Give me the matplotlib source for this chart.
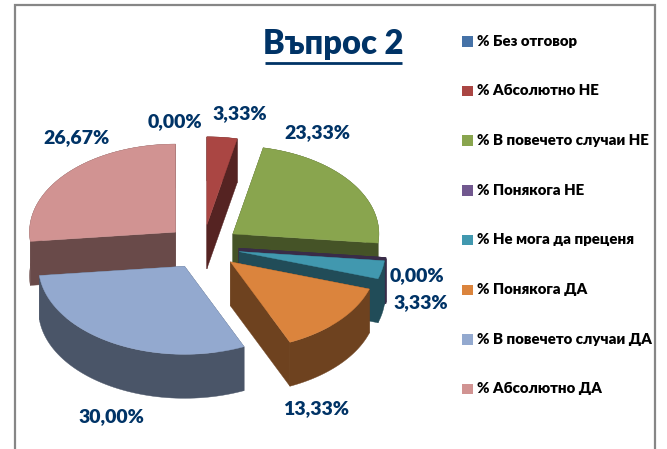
import numpy as np
import matplotlib
matplotlib.use("Agg")
import matplotlib.pyplot as plt
from matplotlib.colors import to_rgb
from matplotlib.patches import Rectangle

categories = ["% Без отговор", "% Абсолютно НЕ", "% В повечето случаи НЕ", "% Понякога НЕ",
              "% Не мога да преценя", "% Понякога ДА", "% В повечето случаи ДА", "% Абсолютно ДА"]
values = [0.00, 3.33, 23.33, 0.00, 3.33, 13.33, 30.00, 26.67]
value_labels = ["0,00%", "3,33%", "23,33%", "0,00%", "3,33%", "13,33%", "30,00%", "26,67%"]
colors = ["#4572A7", "#AA4643", "#89A54E", "#71588F", "#4198AF", "#DB843D", "#93A9CF", "#D19392"]

FONT = ["Lato", "Noto Sans"]
NAVY = "#003366"

# pie geometry in pixels
cx, cy = 203, 247
rx, ry = 146, 88
depth = 44
explode = 0.253

# where the labels sit, same order as values
label_pos = [(175, 122), (240, 114), (317, 133), (417, 276), (421, 303), (316, 409), (111, 417), (76, 138)]
# back to front
draw_order = [1, 7, 2, 3, 4, 5, 6]
edge_width = {3: 1.8}


def wedge_outline(start, end, mid):
    # angles are clockwise from the top, as in the office pie
    ox = cx + explode * rx * np.sin(mid)
    oy = cy - explode * ry * np.cos(mid)
    t = np.linspace(start, end, 60)
    xs = ox + rx * np.sin(t)
    ys = oy - ry * np.cos(t)
    return ox, oy, xs, ys


fig = plt.figure(figsize=(6.67, 4.49), dpi=100)
ax = fig.add_axes([0, 0, 1, 1])
ax.set_xlim(0, 667)
ax.set_ylim(449, 0)
ax.axis("off")

# frame, open at the bottom because the picture is cropped there
ax.plot([15, 15, 655, 655], [449, 5, 5, 449], color="#868686", lw=1.6, solid_joinstyle="miter")

edges = np.radians(np.cumsum([0] + values) * 3.6)
for i in draw_order:
    start, end = edges[i], edges[i + 1]
    ox, oy, xs, ys = wedge_outline(start, end, (start + end) / 2)
    side = tuple(c * 0.5 for c in to_rgb(colors[i]))
    lw = edge_width.get(i, 0)
    # side faces first, the top hides whatever is not visible
    ax.fill(np.r_[xs, xs[::-1]], np.r_[ys, ys[::-1] + depth], color=side, lw=max(lw, 0.3))
    for k in (0, -1):
        ax.fill([ox, xs[k], xs[k], ox], [oy, ys[k], ys[k] + depth, oy + depth], color=side, lw=max(lw, 0.3))
    ax.fill(np.r_[ox, xs], np.r_[oy, ys], facecolor=colors[i], edgecolor=side if lw else colors[i], lw=max(lw, 0.3))

for text, (x, y) in zip(value_labels, label_pos):
    ax.text(x, y, text, color=NAVY, fontsize=14, fontweight="heavy", family=FONT,
            ha="center", va="center")

ax.text(333.5, 44, "Въпрос 2", color=NAVY, fontsize=23.5, fontweight="heavy", family=FONT,
        ha="center", va="center")
ax.plot([265, 402], [63, 63], color=NAVY, lw=2, solid_capstyle="butt")

# legend
for i, name in enumerate(categories):
    y = 41 + i * 49.7
    ax.add_patch(Rectangle((462, y - 5), 10.5, 10.5, facecolor=colors[i], edgecolor="none"))
    ax.text(477, y, name, color="black", fontsize=10.8, fontweight="heavy", family=FONT,
            ha="left", va="center")

fig.savefig("out.png", dpi=100, facecolor="white")
